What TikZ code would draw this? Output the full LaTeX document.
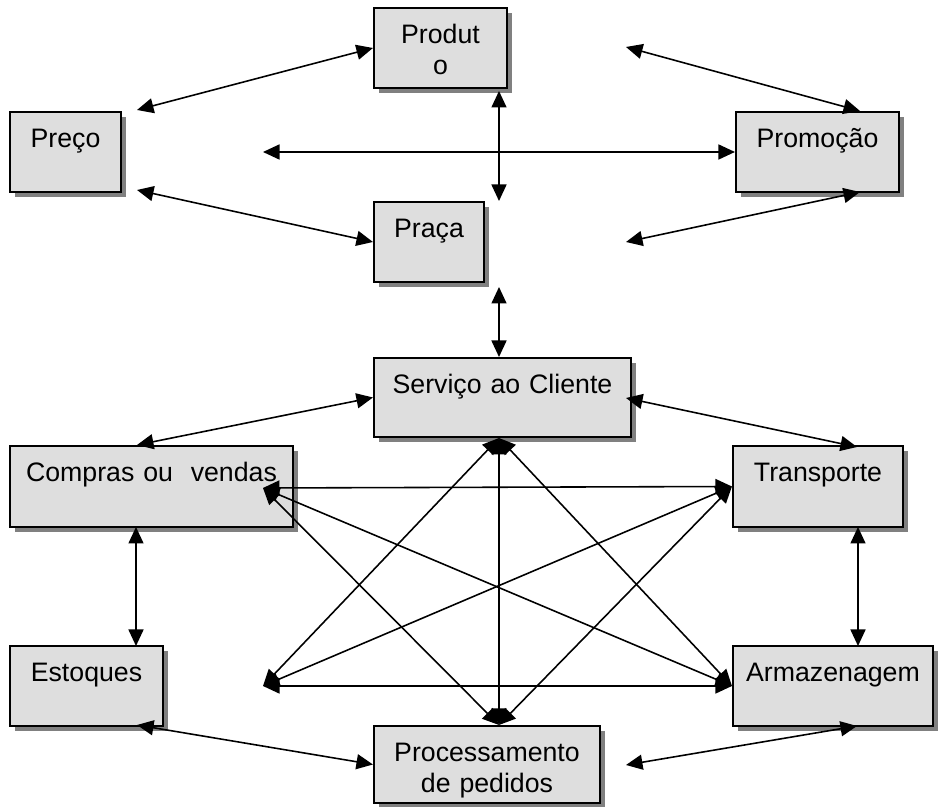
\documentclass[tikz,border=0pt]{standalone}
\usepackage{fontspec}
\setmainfont{Liberation Sans}
\usetikzlibrary{arrows.meta,shadows}

\definecolor{fundocaixa}{gray}{0.87}
\definecolor{sombracaixa}{gray}{0.5}

\begin{document}
\begin{tikzpicture}[
    caixa/.style={draw, line width=1.2pt, fill=fundocaixa, inner sep=0pt,
        align=center, text height=0.71cm, text depth=0.89cm,
        font=\fontsize{15.2}{17.6}\selectfont,
        drop shadow={shadow xshift=0.1cm, shadow yshift=-0.1cm, fill=sombracaixa, opacity=1}},
    seta/.style={line width=0.9pt, >={Triangle[length=0.33cm, width=0.3cm]}, <->}
]
    \useasboundingbox (0, 0) rectangle (18.76, 16.14);

    % Marketing mix (top)
    \node[caixa, text width=2.66cm] (produto) at (8.81, 15.18) {Produt\\o};
    \node[caixa, text width=2.22cm] (preco) at (1.31, 13.10) {Preço};
    \node[caixa, text width=3.26cm] (promocao) at (16.35, 13.10) {Promoção};
    \node[caixa, text width=2.20cm] (praca) at (8.58, 11.30) {Praça};

    % Logistics (bottom)
    \node[caixa, text width=5.14cm, text depth=0.87cm] (servico) at (10.05, 8.19) {Serviço ao Cliente};
    \node[caixa, text width=5.66cm, text depth=0.91cm] (compras) at (3.03, 6.41) {Compras ou~~vendas};
    \node[caixa, text width=3.40cm, text depth=0.91cm] (transporte) at (16.36, 6.41) {Transporte};
    \node[caixa, text width=3.06cm] (estoques) at (1.73, 2.42) {Estoques};
    \node[caixa, text width=4.00cm] (armazenagem) at (16.66, 2.42) {Armazenagem};
    \node[caixa, text width=4.52cm, text depth=0.83cm] (processamento) at (9.74, 0.85) {Processamento\\de pedidos};

    % Free ends of the arrows
    \coordinate (precoA) at (2.74, 13.94);
    \coordinate (precoB) at (2.74, 12.34);
    \coordinate (precoC) at (5.26, 13.10);
    \coordinate (produtoB) at (9.98, 14.32);
    \coordinate (pracaT) at (9.98, 12.12);
    \coordinate (promocaoA) at (12.52, 15.20);
    \coordinate (promocaoT) at (17.20, 13.92);
    \coordinate (promocaoC) at (12.52, 11.30);
    \coordinate (promocaoB) at (17.20, 12.30);
    \coordinate (pracaB) at (9.98, 10.40);
    \coordinate (servicoT) at (9.98, 9.00);
    \coordinate (comprasA) at (2.74, 7.24);
    \coordinate (servicoD) at (12.52, 8.18);
    \coordinate (transporteT) at (17.14, 7.20);
    \coordinate (comprasB) at (2.72, 5.60);
    \coordinate (estoquesT) at (2.72, 3.22);
    \coordinate (transporteB) at (17.16, 5.60);
    \coordinate (armazenagemT) at (17.16, 3.22);
    \coordinate (estoquesB) at (2.74, 1.64);
    \coordinate (processamentoD) at (12.52, 0.84);
    \coordinate (armazenagemB) at (17.14, 1.62);

    % Corners of the logistics network
    \coordinate (redeC) at (5.26, 6.38);
    \coordinate (redeE) at (5.26, 2.42);
    \coordinate (redeS) at (9.98, 7.38);
    \coordinate (redeP) at (9.98, 1.64);

    % Arrows of the marketing mix
    \draw[seta] (precoA) -- (produto.west);
    \draw[seta] (precoB) -- (praca.west);
    \draw[seta] (precoC) -- (promocao.west);
    \draw[seta] (produtoB) -- (pracaT);
    \draw[seta] (promocaoA) -- (promocaoT);
    \draw[seta] (promocaoC) -- (promocaoB);
    \draw[seta] (pracaB) -- (servicoT);

    % Arrows round the logistics
    \draw[seta] (servico.west) -- (comprasA);
    \draw[seta] (servicoD) -- (transporteT);
    \draw[seta] (comprasB) -- (estoquesT);
    \draw[seta] (transporteB) -- (armazenagemT);
    \draw[seta] (estoquesB) -- (processamento.west);
    \draw[seta] (processamentoD) -- (armazenagemB);

    % Network inside
    \draw[seta] (redeC) -- (transporte.west);
    \draw[seta] (redeE) -- (armazenagem.west);
    \draw[seta] (redeS) -- (redeP);
    \draw[seta] (redeC) -- (armazenagem.west);
    \draw[seta] (redeE) -- (transporte.west);
    \draw[seta] (redeS) -- (redeE);
    \draw[seta] (redeS) -- (armazenagem.west);
    \draw[seta] (redeP) -- (redeC);
    \draw[seta] (redeP) -- (transporte.west);

\end{tikzpicture}
\end{document}
